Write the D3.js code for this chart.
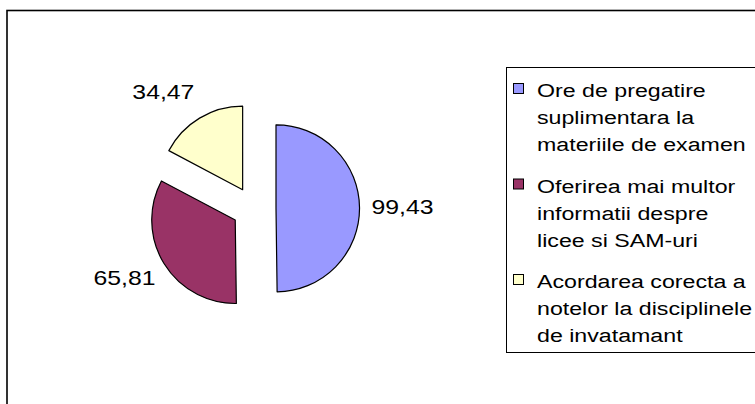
<!DOCTYPE html>
<html>
<head>
<meta charset="utf-8">
<script src="https://cdn.jsdelivr.net/npm/d3@7"></script>
<style>
  body { margin: 0; background: #fff; }
  text { font-family: "Liberation Sans", Arial, sans-serif; fill: #000; }
</style>
</head>
<body>
<div id="viz"></div>
<script>
// chart data
var categories = [
  'Ore de pregatire suplimentara la materiile de examen',
  'Oferirea mai multor informatii despre licee si SAM-uri',
  'Acordarea corecta a notelor la disciplinele de invatamant'
];
var values = [99.43, 65.81, 34.47];
// legend text as it is wrapped in the picture
var legendLines = [
  ['Ore de pregatire', 'suplimentara la', 'materiile de examen'],
  ['Oferirea mai multor', 'informatii despre', 'licee si SAM-uri'],
  ['Acordarea corecta a', 'notelor la disciplinele', 'de invatamant']
];
var colors = ['#9999ff', '#993366', '#ffffcc'];

var width = 755, height = 404;

var svg = d3.select('#viz').append('svg')
  .attr('width', width)
  .attr('height', height);

// outer chart frame (runs off the right and bottom edge)
svg.append('rect')
  .attr('x', 7)
  .attr('y', 10.5)
  .attr('width', 800)
  .attr('height', 450)
  .attr('fill', 'none')
  .attr('stroke', '#000')
  .attr('stroke-width', 1.6);

// pie
var cx = 254, cy = 208.5;
var radius = 83.5;
var explode = 22;
var textScale = 1.24;

var pie = d3.pie().sort(null).value(function(d) { return d; });
var arcs = pie(values);
var arc = d3.arc().innerRadius(0).outerRadius(radius);

var pieG = svg.append('g')
  .attr('transform', 'translate(' + cx + ',' + cy + ')');

arcs.forEach(function(a, i) {
  var mid = (a.startAngle + a.endAngle) / 2;
  var ox = Math.sin(mid) * explode;
  var oy = -Math.cos(mid) * explode;

  var slice = pieG.append('g')
    .attr('transform', 'translate(' + ox + ',' + oy + ')');

  slice.append('path')
    .attr('d', arc(a))
    .attr('fill', colors[i])
    .attr('stroke', '#000')
    .attr('stroke-width', 1.2)
    .attr('stroke-linejoin', 'round');

  // data label just outside the slice, on its bisector
  var lr = radius + 10;
  var px = Math.sin(mid) * lr;
  var py = -Math.cos(mid) * lr - Math.cos(mid) * 20 - 1;
  var s = Math.sin(mid);
  var anchor = s > 0.1 ? 'start' : (s < -0.1 ? 'end' : 'middle');
  if (anchor == 'start') px += 2;

  slice.append('text')
    .attr('transform', 'translate(' + px + ',' + (py + 7.2) + ') scale(' + textScale + ',1)')
    .attr('text-anchor', anchor)
    .style('font-size', '20px')
    .text(values[i].toFixed(2).replace('.', ','));
});

// legend
var legend = svg.append('g').attr('id', 'legend');

legend.append('rect')
  .attr('x', 506.5)
  .attr('y', 67.5)
  .attr('width', 300)
  .attr('height', 285)
  .attr('fill', '#fff')
  .attr('stroke', '#000')
  .attr('stroke-width', 1);

var legendY = d3.scaleLinear().domain([0, 1]).range([97, 192.5]);
var lineStep = 27.2;

categories.forEach(function(c, i) {
  var y0 = legendY(i);
  legend.append('rect')
    .attr('x', 513.5)
    .attr('y', y0 - 13.5)
    .attr('width', 10)
    .attr('height', 10)
    .attr('fill', colors[i])
    .attr('stroke', '#000')
    .attr('stroke-width', 1);

  var t = legend.append('text')
    .attr('transform', 'translate(537,' + y0 + ') scale(1.22,1)')
    .style('font-size', '19px');
  legendLines[i].forEach(function(line, j) {
    t.append('tspan')
      .attr('x', 0)
      .attr('y', j * lineStep)
      .text(line);
  });
});
</script>
</body>
</html>
